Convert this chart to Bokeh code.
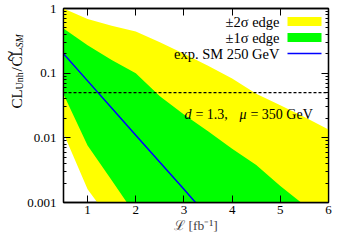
import math
from bokeh.plotting import figure
from bokeh.layouts import row
from bokeh.models import (FixedTicker, LogAxis, LinearAxis, Span, Label,
                          BoxAnnotation, ColumnDataSource, CustomJSTickFormatter)
from bokeh.embed import file_html
from bokeh.resources import INLINE

# ---------------- data ----------------
lumi = [0.5, 1.0, 1.5, 2.0, 2.5, 3.0, 3.5, 4.0, 4.5, 5.0, 5.5, 6.0]
two_sigma_upper = [1.0, 0.69, 0.54, 0.44, 0.30, 0.20, 0.13, 0.083, 0.048, 0.032, 0.021, 0.0135]
two_sigma_lower = [0.0118, 0.0016, 0.0005, 0.00016, 5e-5, 1.6e-5, 5e-6, 1.6e-6, 5e-7, 1.6e-7, 5e-8, 1.6e-8]
one_sigma_upper = [0.49, 0.27, 0.16, 0.10, 0.044, 0.023, 0.0126, 0.0068, 0.0038, 0.0018, 0.00091, 0.00045]
one_sigma_lower = [0.047, 0.0076, 0.0022, 0.00063, 0.00016, 4.5e-5, 1.3e-5, 3.7e-6, 1e-6, 3e-7, 8e-8, 2.3e-8]
sm_expected = [0.2, 0.076, 0.029, 0.011, 0.0042, 0.0016, 0.0006, 0.00023, 8.7e-5, 3.3e-5, 1.3e-5, 4.8e-6]
threshold = 0.05

x_ticks = [1, 2, 3, 4, 5, 6]
y_ticks = [0.001, 0.01, 0.1, 1]
y_tick_labels = ["0.001", "0.01", "0.1", "1"]
y_minor = [m * d for d in [0.001, 0.01, 0.1] for m in range(2, 10)]

legend_labels = ["±2σ edge", "±1σ edge", "exp. SM 250 GeV"]
annotation_parts = ["d", "= 1.3,", "μ", "= 350 GeV"]
ylabel_parts = ["CL", "Unh", "/", "CL", "SM"]

FONT = "Liberation Serif"
YELLOW = "#ffff00"
GREEN = "#00ff00"
BLUE = "#0000ff"

src = ColumnDataSource(dict(x=lumi, y2u=two_sigma_upper, y2l=two_sigma_lower,
                            y1u=one_sigma_upper, y1l=one_sigma_lower, sm=sm_expected))

LABEL_W = 24
p = figure(width=333 - LABEL_W, height=235, x_range=(0.5, 6), y_range=(0.001, 1),
           y_axis_type="log", output_backend="svg", toolbar_location=None,
           min_border_left=54 - LABEL_W, min_border_right=5, min_border_top=8,
           min_border_bottom=0, background_fill_color="white", border_fill_color="white")
p.grid.visible = False
p.outline_line_color = "black"
p.outline_line_width = 1.3

p.varea(x="x", y1="y2l", y2="y2u", source=src, fill_color=YELLOW, fill_alpha=1)
p.varea(x="x", y1="y1l", y2="y1u", source=src, fill_color=GREEN, fill_alpha=1)
p.line(x="x", y="sm", source=src, line_color=BLUE, line_width=1.5)
p.add_layout(Span(location=threshold, dimension="width", line_color="black",
                  line_dash="3 2", line_width=1.2))

xt = FixedTicker(ticks=x_ticks)
yt = FixedTicker(ticks=y_ticks, minor_ticks=y_minor)
blank = CustomJSTickFormatter(code="return ' '")


def style_axis(ax, labels=True):
    ax.axis_line_color = "black"
    ax.axis_line_width = 1.3
    ax.major_tick_in = 7
    ax.major_tick_out = 0
    ax.minor_tick_in = 3
    ax.minor_tick_out = 0
    ax.major_tick_line_color = "black"
    ax.minor_tick_line_color = "black"
    ax.major_label_text_font = FONT
    ax.major_label_text_font_size = "13px"
    ax.major_label_text_color = "black"
    if not labels:
        ax.formatter = blank
        ax.major_label_text_font_size = "1px"
        ax.major_label_standoff = 0


xa = p.xaxis[0]
xa.ticker = xt
style_axis(xa)
xa.minor_tick_line_color = None
xa.major_label_standoff = 3
xa.axis_label = "ℒ [fb⁻¹]"
xa.axis_label_text_font = FONT
xa.axis_label_text_font_size = "13.5px"
xa.axis_label_text_font_style = "normal"
xa.axis_label_standoff = 1

ya = p.yaxis[0]
ya.ticker = yt
style_axis(ya)
ya.major_label_overrides = {t: s for t, s in zip(y_ticks, y_tick_labels)}
ya.major_label_standoff = 7

top = LinearAxis(ticker=xt)
style_axis(top, labels=False)
top.minor_tick_line_color = None
p.add_layout(top, "above")

right = LogAxis(ticker=yt)
style_axis(right, labels=False)
p.add_layout(right, "right")

# ---------- legend (text right, key on the right) ----------
rows = [181, 165, 149]
keys = [YELLOW, GREEN, BLUE]
for lab, fy, col in zip(legend_labels, rows, keys):
    p.add_layout(Label(x=216, y=fy, x_units="screen", y_units="screen", text=lab,
                       text_font=FONT, text_font_size="14.5px", text_align="right",
                       text_baseline="middle", text_color="black"))
    half = 0.8 if col == BLUE else 4.6
    p.add_layout(BoxAnnotation(left=224, right=258, bottom=fy - half, top=fy + half,
                               left_units="screen", right_units="screen",
                               bottom_units="screen", top_units="screen",
                               fill_color=col, fill_alpha=1, line_color=None))

# ---------- parameter annotation ----------
offsets = [0, 11, 55, 66]
styles = ["italic", "normal", "italic", "normal"]
for txt, off, st in zip(annotation_parts, offsets, styles):
    p.add_layout(Label(x=3.01, y=0.023, x_offset=off, text=txt, text_font=FONT,
                       text_font_size="14px", text_font_style=st, text_align="left",
                       text_baseline="alphabetic", text_color="black"))

# ---------- y-axis title: a narrow strip left of the plot ----------
lab = figure(width=LABEL_W, height=235, x_range=(0, 1), y_range=(0, 1),
             output_backend="svg", toolbar_location=None, min_border=0,
             x_axis_location=None, y_axis_location=None,
             background_fill_color="white", border_fill_color="white")
lab.grid.visible = False
lab.outline_line_color = None

bx, by = 16, 94
geom = [(0, 0, "15px", "normal"), (3, 19, "10px", "normal"), (0, 37, "15px", "normal"),
        (0, 42, "15px", "normal"), (3, 61, "10px", "italic")]
for txt, (dx, dy, fs, st) in zip(ylabel_parts, geom):
    lab.add_layout(Label(x=bx + dx, y=by + dy, x_units="screen", y_units="screen",
                         text=txt, angle=math.pi / 2, text_font=FONT, text_font_size=fs,
                         text_font_style=st, text_align="left", text_baseline="alphabetic",
                         text_color="black"))
lab.add_layout(Label(x=bx - 7, y=by + 52.5, x_units="screen", y_units="screen",
                     text="~", angle=math.pi / 2, text_font=FONT, text_font_size="20px",
                     text_align="center", text_baseline="alphabetic", text_color="black"))

layout = row(lab, p, spacing=0)
open("out.html", "w").write(file_html(layout, INLINE))
